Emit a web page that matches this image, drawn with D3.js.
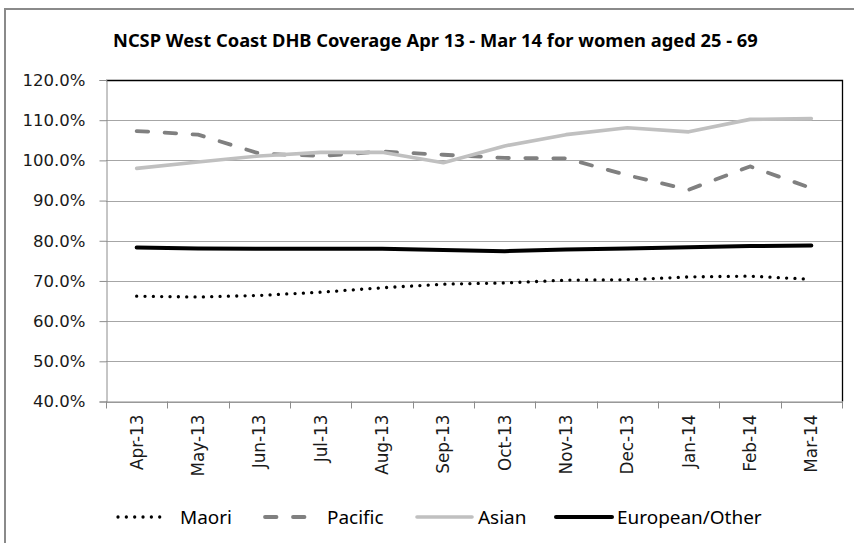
<!DOCTYPE html>
<html>
<head>
<meta charset="utf-8">
<script src="https://cdn.jsdelivr.net/npm/d3@7"></script>
<style>
  html, body { margin: 0; padding: 0; background: #fff; }
  svg { display: block; }
</style>
</head>
<body>
<svg id="chart" width="854" height="543"></svg>
<script>
const months = ["Apr-13","May-13","Jun-13","Jul-13","Aug-13","Sep-13","Oct-13","Nov-13","Dec-13","Jan-14","Feb-14","Mar-14"];
const maori    = [66.2, 66.0, 66.4, 67.2, 68.3, 69.2, 69.5, 70.2, 70.3, 71.0, 71.2, 70.4];
const pacific  = [107.3, 106.4, 101.7, 101.1, 102.2, 101.4, 100.6, 100.5, 96.3, 92.7, 98.5, 93.1];
const asian    = [98.0, 99.6, 101.1, 102.0, 102.0, 99.4, 103.6, 106.4, 108.1, 107.1, 110.2, 110.4];
const european = [78.3, 78.1, 78.0, 78.0, 78.0, 77.7, 77.4, 77.8, 78.1, 78.4, 78.7, 78.8];
const yTicks = [40, 50, 60, 70, 80, 90, 100, 110, 120];
const seriesNames = ["Maori", "Pacific", "Asian", "European/Other"];
const title = "NCSP West Coast DHB Coverage Apr 13 - Mar 14 for women aged 25 - 69";

const styles = {
  "Maori":          {color: "#000000", width: 3.3, dash: "0.01,8.33"},
  "Pacific":        {color: "#808080", width: 3.8, dash: "11.5,16.5"},
  "Asian":          {color: "#c0c0c0", width: 3.6, dash: null},
  "European/Other": {color: "#000000", width: 4,   dash: null}
};
const seriesData = {"Maori": maori, "Pacific": pacific, "Asian": asian, "European/Other": european};

const svg = d3.select("#chart");
const L = 106, R = 842, T = 80, B = 401.5;
const axisFont = "'DejaVu Sans', Verdana, sans-serif";
const textFont = "'Noto Sans', 'Open Sans', sans-serif";

function fitSize(str, family, weight, target) {
  const p = svg.append("text").text(str).attr("font-family", family)
    .attr("font-weight", weight).attr("font-size", 20);
  const w = p.node().getComputedTextLength();
  p.remove();
  return 20 * target / w;
}

// chart border
svg.append("rect").attr("x", 5).attr("y", 9).attr("width", 900).attr("height", 600)
  .attr("fill", "none").attr("stroke", "#8a8a8a").attr("stroke-width", 2);

const x = d3.scaleBand().domain(months).range([L, R]).padding(0);
const y = d3.scaleLinear().domain([40, 120]).range([B, T]);

// gridlines
svg.append("g").selectAll("line").data(yTicks.filter(d => d !== 120)).join("line")
  .attr("x1", L).attr("x2", R)
  .attr("y1", d => Math.round(y(d)) + 0.5).attr("y2", d => Math.round(y(d)) + 0.5)
  .attr("stroke", "#a6a6a6").attr("stroke-width", 1);

// plot border top/right
svg.append("path")
  .attr("d", `M${L},${Math.round(T)+0.5}H${R+0.5}V${B}`)
  .attr("fill", "none").attr("stroke", "#000").attr("stroke-width", 1.3);

// Y axis
const ySize = fitSize("120.0%", axisFont, "normal", 63);
const yAxis = d3.axisLeft(y).tickValues(yTicks).tickSize(7).tickPadding(14)
  .tickFormat(d => d3.format(".1f")(d) + "%");
const gy = svg.append("g").attr("transform", `translate(${L + 0.5},0)`).call(yAxis);
gy.select(".domain").attr("stroke", "#8c8c8c");
gy.selectAll(".tick line").attr("stroke", "#8c8c8c");
gy.selectAll(".tick text").attr("font-family", axisFont)
  .attr("font-size", ySize).attr("fill", "#1a1a1a");

// X axis
const xSize = fitSize("May-13", axisFont, "normal", 62);
const xAxis = d3.axisBottom(x).tickSize(0).tickPadding(0);
const gx = svg.append("g").attr("transform", `translate(0,${B})`).call(xAxis);
gx.select(".domain").attr("stroke", "#8c8c8c").attr("d", `M${L},0.5H${R}`);
const bounds = months.map(m => x(m)).concat([R]);
gx.selectAll(".bt").data(bounds).join("line").attr("class", "bt")
  .attr("x1", d => Math.round(d) + 0.5).attr("x2", d => Math.round(d) + 0.5)
  .attr("y1", 0).attr("y2", 7).attr("stroke", "#8c8c8c");
gx.selectAll(".tick text")
  .attr("font-family", axisFont).attr("font-size", xSize).attr("fill", "#1a1a1a")
  .attr("text-anchor", "end")
  .attr("transform", "rotate(-90)")
  .attr("x", -13).attr("y", 0).attr("dy", "0.35em");

// lines
const line = d3.line()
  .x((d, i) => x(months[i]) + x.bandwidth() / 2)
  .y(d => y(d));

seriesNames.forEach(name => {
  const s = styles[name];
  svg.append("path").datum(seriesData[name])
    .attr("d", line)
    .attr("fill", "none")
    .attr("stroke", s.color)
    .attr("stroke-width", s.width)
    .attr("stroke-linecap", "round")
    .attr("stroke-linejoin", "round")
    .attr("stroke-dasharray", s.dash);
});

// title
svg.append("text").text(title)
  .attr("font-family", textFont).attr("font-weight", "bold")
  .attr("font-size", fitSize(title, textFont, "bold", 645)).attr("fill", "#000")
  .attr("x", 113).attr("y", 47);

// legend
const legendItems = [
  {name: "Maori",          x1: 118, x2: 168, tx: 180},
  {name: "Pacific",        x1: 265, x2: 306, tx: 327},
  {name: "Asian",          x1: 417, x2: 472, tx: 478},
  {name: "European/Other", x1: 556, x2: 612, tx: 617}
];
const ly = 517;
const legendSize = fitSize("Maori", textFont, "normal", 52);
const lg = svg.append("g");
legendItems.forEach(it => {
  const s = styles[it.name];
  lg.append("line").attr("x1", it.x1).attr("x2", it.x2).attr("y1", ly).attr("y2", ly)
    .attr("stroke", s.color).attr("stroke-width", s.width)
    .attr("stroke-linecap", "round").attr("stroke-dasharray", s.dash);
  lg.append("text").text(it.name).attr("x", it.tx).attr("y", ly).attr("dy", "0.35em")
    .attr("font-family", textFont).attr("font-size", legendSize).attr("fill", "#000");
});
</script>
</body>
</html>
